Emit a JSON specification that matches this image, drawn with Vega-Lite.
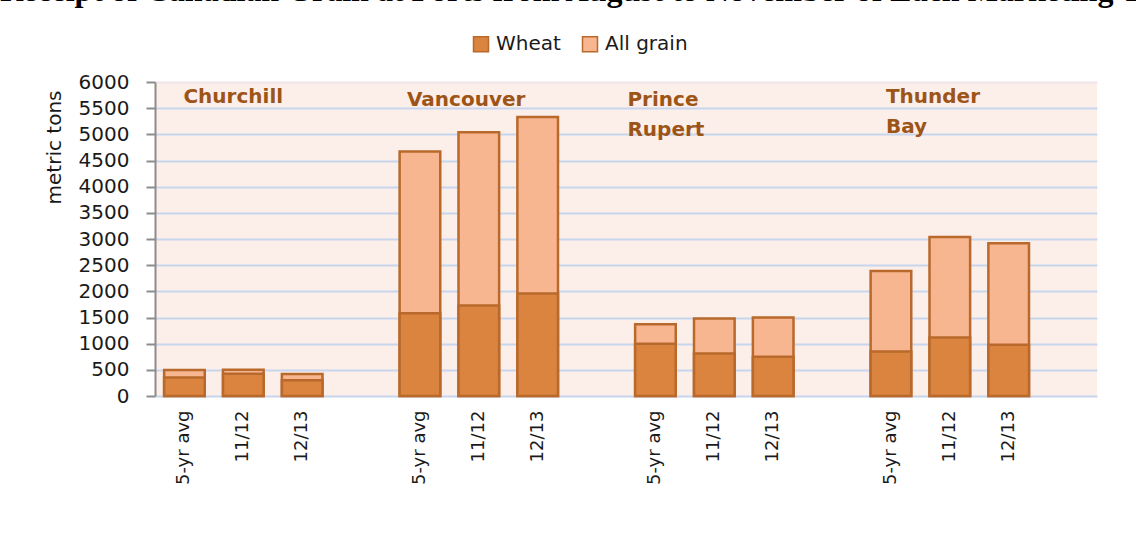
{
  "$schema": "https://vega.github.io/schema/vega-lite/v6.json",
  "autosize": {"type": "none"},
  "padding": {"left": 155, "top": 82, "right": 39, "bottom": 148},
  "width": 942,
  "height": 314,
  "background": "#ffffff",
  "title": {
    "text": "Receipt of Canadian Grain at Ports from August to November of Each Marketing Year",
    "font": "Liberation Serif",
    "fontWeight": "bold",
    "fontSize": 32,
    "color": "#000000",
    "anchor": "start",
    "frame": "group",
    "dx": -155,
    "dy": -1,
    "baseline": "alphabetic",
    "offset": 0
  },
  "config": {
    "font": "DejaVu Sans",
    "view": {"fill": "#FCEEE9", "stroke": null},
    "axis": {"labelFont": "DejaVu Sans", "titleFont": "DejaVu Sans", "labelColor": "#1a1a1a", "titleColor": "#1a1a1a"}
  },
  "datasets": {
    "bars": [
      {"slot": "Churchill|5-yr avg", "series": "All grain", "tons": 495},
      {"slot": "Churchill|11/12", "series": "All grain", "tons": 500},
      {"slot": "Churchill|12/13", "series": "All grain", "tons": 420},
      {"slot": "Vancouver|5-yr avg", "series": "All grain", "tons": 4670},
      {"slot": "Vancouver|11/12", "series": "All grain", "tons": 5040},
      {"slot": "Vancouver|12/13", "series": "All grain", "tons": 5330},
      {"slot": "Prince Rupert|5-yr avg", "series": "All grain", "tons": 1370},
      {"slot": "Prince Rupert|11/12", "series": "All grain", "tons": 1480},
      {"slot": "Prince Rupert|12/13", "series": "All grain", "tons": 1500},
      {"slot": "Thunder Bay|5-yr avg", "series": "All grain", "tons": 2390},
      {"slot": "Thunder Bay|11/12", "series": "All grain", "tons": 3040},
      {"slot": "Thunder Bay|12/13", "series": "All grain", "tons": 2920},
      {"slot": "Churchill|5-yr avg", "series": "Wheat", "tons": 355},
      {"slot": "Churchill|11/12", "series": "Wheat", "tons": 425},
      {"slot": "Churchill|12/13", "series": "Wheat", "tons": 300},
      {"slot": "Vancouver|5-yr avg", "series": "Wheat", "tons": 1580},
      {"slot": "Vancouver|11/12", "series": "Wheat", "tons": 1730},
      {"slot": "Vancouver|12/13", "series": "Wheat", "tons": 1960},
      {"slot": "Prince Rupert|5-yr avg", "series": "Wheat", "tons": 1000},
      {"slot": "Prince Rupert|11/12", "series": "Wheat", "tons": 810},
      {"slot": "Prince Rupert|12/13", "series": "Wheat", "tons": 750},
      {"slot": "Thunder Bay|5-yr avg", "series": "Wheat", "tons": 850},
      {"slot": "Thunder Bay|11/12", "series": "Wheat", "tons": 1120},
      {"slot": "Thunder Bay|12/13", "series": "Wheat", "tons": 980}
    ],
    "ports": [
      {"port": "Churchill", "line": "Churchill", "slot": "Churchill|5-yr avg", "tons": 5710},
      {"port": "Vancouver", "line": "Vancouver", "slot": "Vancouver|5-yr avg", "tons": 5660},
      {"port": "Prince Rupert", "line": "Prince", "slot": "Prince Rupert|5-yr avg", "tons": 5660},
      {"port": "Prince Rupert", "line": "Rupert", "slot": "Prince Rupert|5-yr avg", "tons": 5090},
      {"port": "Thunder Bay", "line": "Thunder", "slot": "Thunder Bay|5-yr avg", "tons": 5710},
      {"port": "Thunder Bay", "line": "Bay", "slot": "Thunder Bay|5-yr avg", "tons": 5140}
    ]
  },
  "encoding": {
    "x": {
      "field": "slot",
      "type": "nominal",
      "sort": null,
      "scale": {
        "domain": ["Churchill|5-yr avg", "Churchill|11/12", "Churchill|12/13", "gap1",
                   "Vancouver|5-yr avg", "Vancouver|11/12", "Vancouver|12/13", "gap2",
                   "Prince Rupert|5-yr avg", "Prince Rupert|11/12", "Prince Rupert|12/13", "gap3",
                   "Thunder Bay|5-yr avg", "Thunder Bay|11/12", "Thunder Bay|12/13", "gap4"],
        "paddingInner": 0.31,
        "paddingOuter": 0.155
      },
      "axis": {
        "title": null,
        "labelExpr": "indexof(datum.value, '|') >= 0 ? split(datum.value, '|')[1] : ''",
        "labelAngle": -90,
        "labelAlign": "right",
        "labelBaseline": "middle",
        "labelFontSize": 18,
        "labelPadding": 14,
        "ticks": false,
        "domain": false,
        "grid": false
      }
    },
    "y": {
      "field": "tons",
      "type": "quantitative",
      "scale": {"domain": [0, 6000], "nice": false},
      "axis": {
        "title": "metric tons",
        "titleFontSize": 20,
        "titleFontWeight": "normal",
        "titlePadding": 14,
        "titleAnchor": "end",
        "titleAlign": "right",
        "titleY": 8,
        "labelFontSize": 20,
        "labelPadding": 17,
        "format": "d",
        "values": [0, 500, 1000, 1500, 2000, 2500, 3000, 3500, 4000, 4500, 5000, 5500, 6000],
        "tickSize": 9,
        "tickColor": "#8c8c8c",
        "tickWidth": 2,
        "domainColor": "#8c8c8c",
        "domainWidth": 2,
        "gridColor": {"condition": {"test": "datum.value == 6000", "value": "#EEE4EA"}, "value": "#C8D5EE"},
        "gridWidth": 2
      }
    }
  },
  "layer": [
    {
      "data": {"name": "bars"},
      "transform": [{"filter": "datum.series == 'All grain'"}],
      "mark": {"type": "bar", "stroke": "#B8692B", "strokeWidth": 2.5},
      "encoding": {
        "color": {
          "field": "series",
          "type": "nominal",
          "scale": {"domain": ["Wheat", "All grain"], "range": ["#DA843F", "#F8B690"]},
          "legend": {
            "title": null,
            "orient": "none",
            "direction": "horizontal",
            "legendX": 316,
            "legendY": -48,
            "symbolType": "square",
            "symbolSize": 225,
            "symbolStrokeColor": "#BA6B2E",
            "symbolStrokeWidth": 1.5,
            "symbolOpacity": 1,
            "labelFontSize": 20,
            "labelFont": "DejaVu Sans",
            "labelColor": "#1a1a1a",
            "labelOffset": 5,
            "columnPadding": 18
          }
        }
      }
    },
    {
      "data": {"name": "bars"},
      "transform": [{"filter": "datum.series == 'Wheat'"}],
      "mark": {"type": "bar", "stroke": "#B8692B", "strokeWidth": 2.5},
      "encoding": {
        "color": {"field": "series", "type": "nominal"}
      }
    },
    {
      "data": {"name": "ports"},
      "transform": [{"filter": "datum.port == 'Churchill'"}],
      "mark": {"type": "text", "align": "left", "baseline": "middle", "fontSize": 20, "fontWeight": "bold", "color": "#9C5517", "dx": -1},
      "encoding": {"text": {"field": "line"}}
    },
    {
      "data": {"name": "ports"},
      "transform": [{"filter": "datum.port == 'Vancouver'"}],
      "mark": {"type": "text", "align": "left", "baseline": "middle", "fontSize": 20, "fontWeight": "bold", "color": "#9C5517", "dx": -13},
      "encoding": {"text": {"field": "line"}}
    },
    {
      "data": {"name": "ports"},
      "transform": [{"filter": "datum.port == 'Prince Rupert'"}],
      "mark": {"type": "text", "align": "left", "baseline": "middle", "fontSize": 20, "fontWeight": "bold", "color": "#9C5517", "dx": -28},
      "encoding": {"text": {"field": "line"}}
    },
    {
      "data": {"name": "ports"},
      "transform": [{"filter": "datum.port == 'Thunder Bay'"}],
      "mark": {"type": "text", "align": "left", "baseline": "middle", "fontSize": 20, "fontWeight": "bold", "color": "#9C5517", "dx": -5},
      "encoding": {"text": {"field": "line"}}
    }
  ]
}
